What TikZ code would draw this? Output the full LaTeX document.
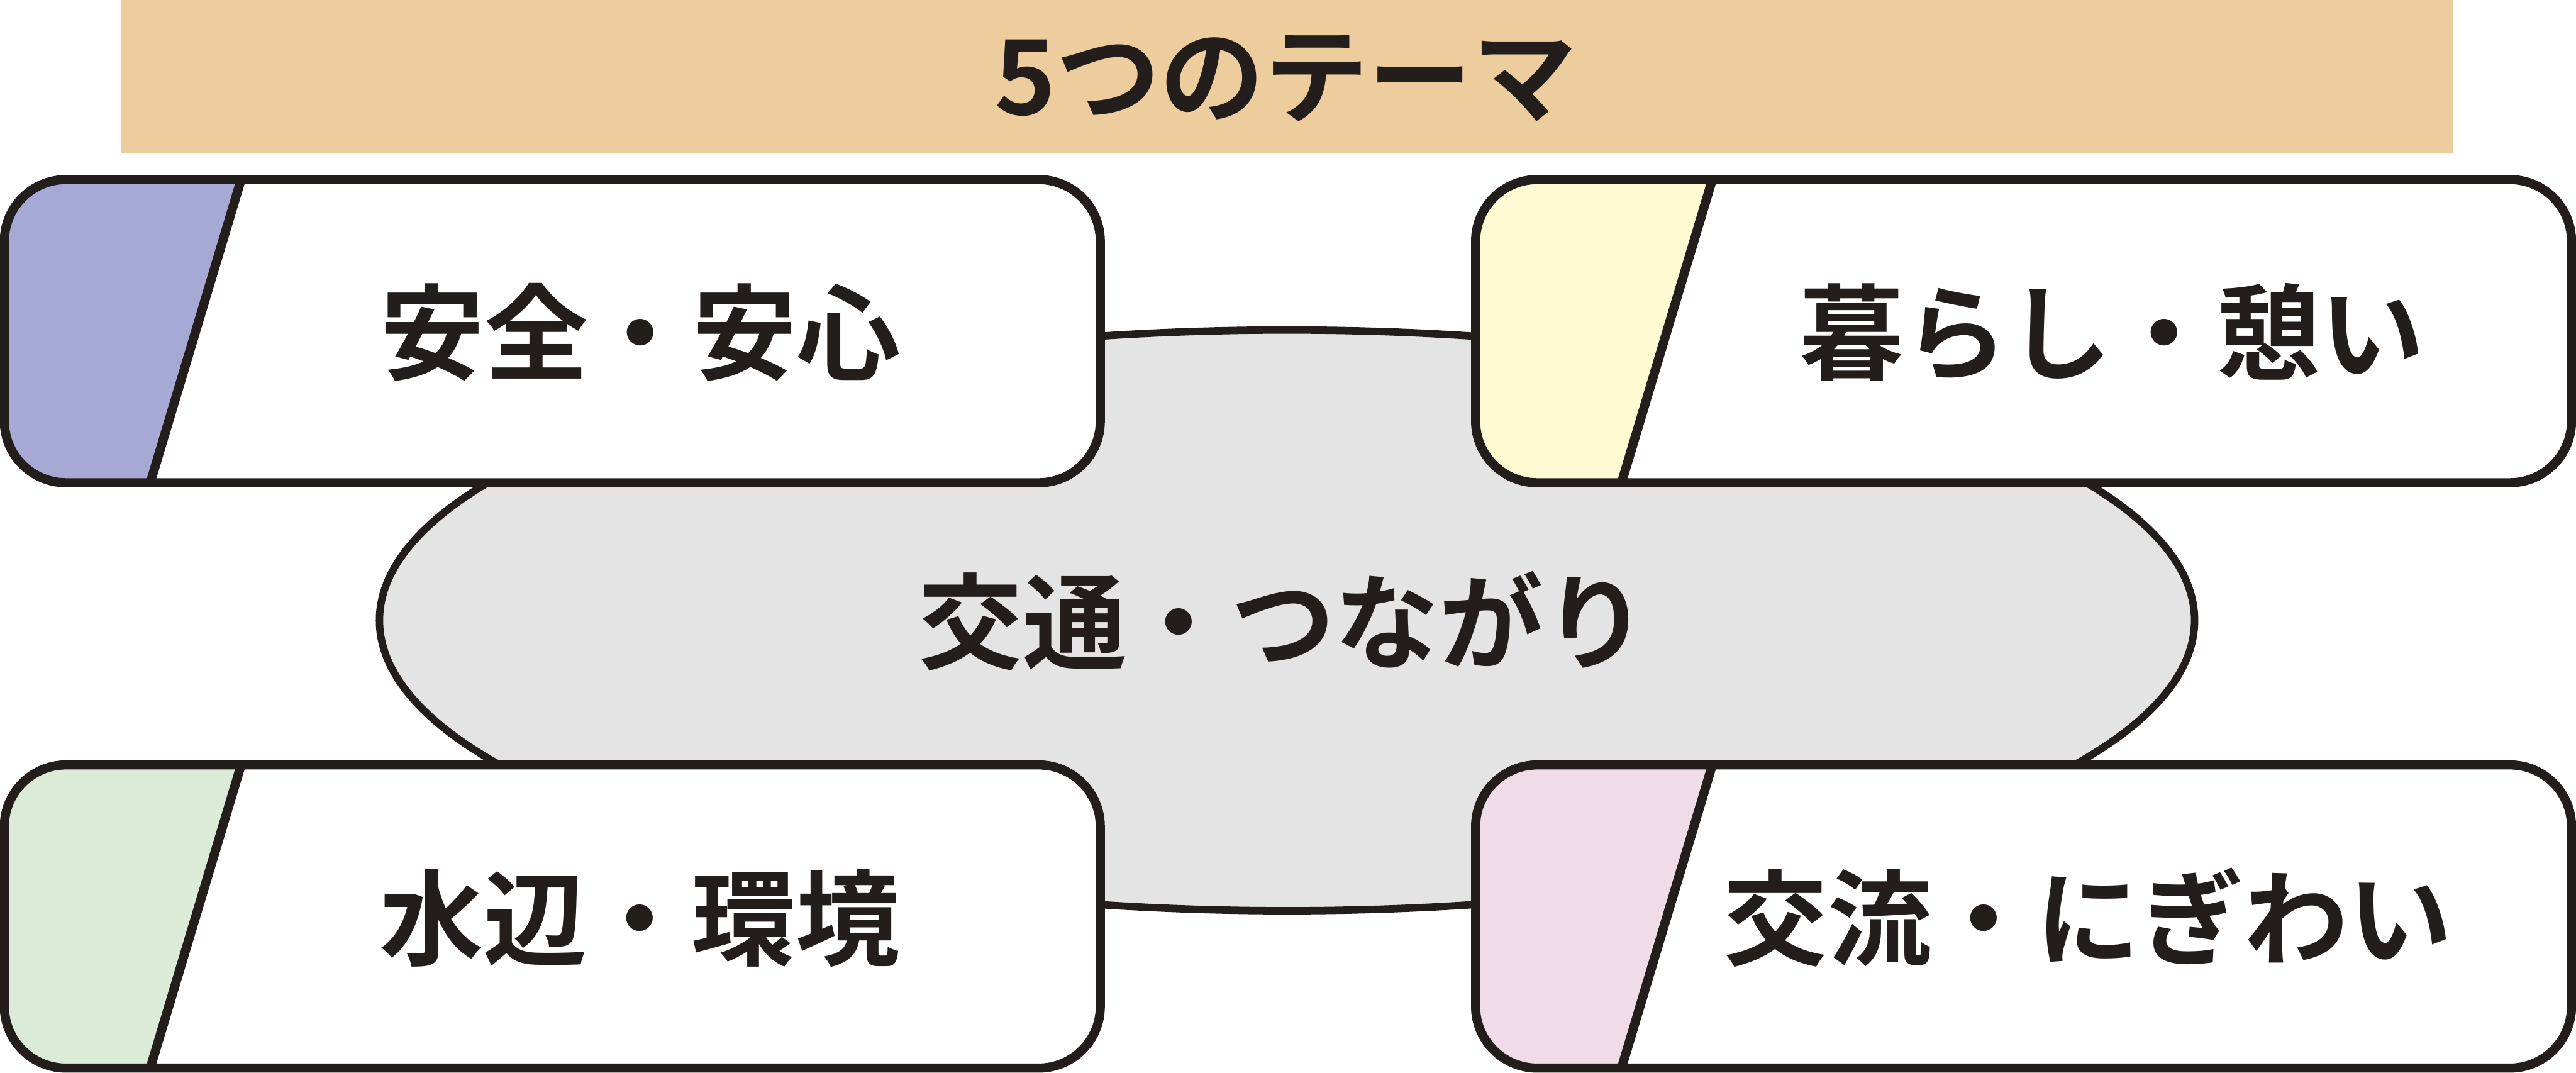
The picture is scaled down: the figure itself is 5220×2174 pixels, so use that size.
\documentclass[tikz,border=0pt]{standalone}
\usepackage{fontspec}
\usetikzlibrary{shapes.geometric}
\newfontfamily\jp{Noto Sans CJK JP}[UprightFont={* Bold}]
\definecolor{ink}{RGB}{35,30,28}
\definecolor{bannerc}{RGB}{237,204,158}
\definecolor{bluec}{RGB}{165,169,212}
\definecolor{yellowc}{RGB}{254,250,210}
\definecolor{greenc}{RGB}{220,234,216}
\definecolor{pinkc}{RGB}{240,220,231}
\definecolor{grayc}{RGB}{228,228,228}
\tikzset{
  themebox/.style={fill=white, draw=none, rounded corners=1.25cm, inner sep=0pt, outer sep=0pt,
    minimum width=22.195cm, minimum height=6.14cm},
  boxline/.style={draw=ink, line width=0.185cm, rounded corners=1.25cm},
  diagline/.style={draw=ink, line width=0.185cm},
  lbl/.style={font=\jp\fontsize{60pt}{60pt}\selectfont, text=ink, inner sep=0pt, anchor=base},
}
\newcommand{\themecard}[4]{%
  \node[themebox] (#1) at (#2) {};
  \coordinate (#1dt) at ([xshift=4.795cm]#1.north west);
  \coordinate (#1db) at ([xshift=2.955cm]#1.south west);
  \begin{scope}
    \clip[rounded corners=1.25cm] (#1.south west) rectangle (#1.north east);
    \fill[#3] (#1.north west) -- (#1dt) -- (#1db) -- (#1.south west) -- cycle;
  \end{scope}
  \draw[diagline] (#1dt) -- (#1db);
  \draw[boxline] (#1.south west) rectangle (#1.north east);
}
\begin{document}
\begin{tikzpicture}[x=0.01cm, y=-0.01cm]
  \useasboundingbox (0,0) rectangle (5220,2174);
  % banner
  \node[fill=bannerc, inner sep=0pt, minimum width=47.24cm, minimum height=3.09cm] (banner) at (2608,154.5) {};
  \node[lbl] (title) at (2605,232) {5つのテーマ};
  % central ellipse
  \node[ellipse, fill=grayc, draw=ink, line width=0.15cm, minimum width=36.76cm, minimum height=11.76cm, inner sep=0pt] (center) at (2608,1257) {};
  \node[lbl] (ctext) at (2600,1340) {交通・つながり};
  % cards
  \themecard{b1}{1119.25,671}{bluec}{}
  \themecard{b2}{4100.5,671}{yellowc}{}
  \themecard{b3}{1119.25,1857}{greenc}{}
  \themecard{b4}{4100.5,1857}{pinkc}{}
  \node[lbl] (t1) at (1298,754) {安全・安心};
  \node[lbl] (t2) at (4280,754) {暮らし・憩い};
  \node[lbl] (t3) at (1296,1940) {水辺・環境};
  \node[lbl] (t4) at (4231,1940) {交流・にぎわい};
\end{tikzpicture}
\end{document}
